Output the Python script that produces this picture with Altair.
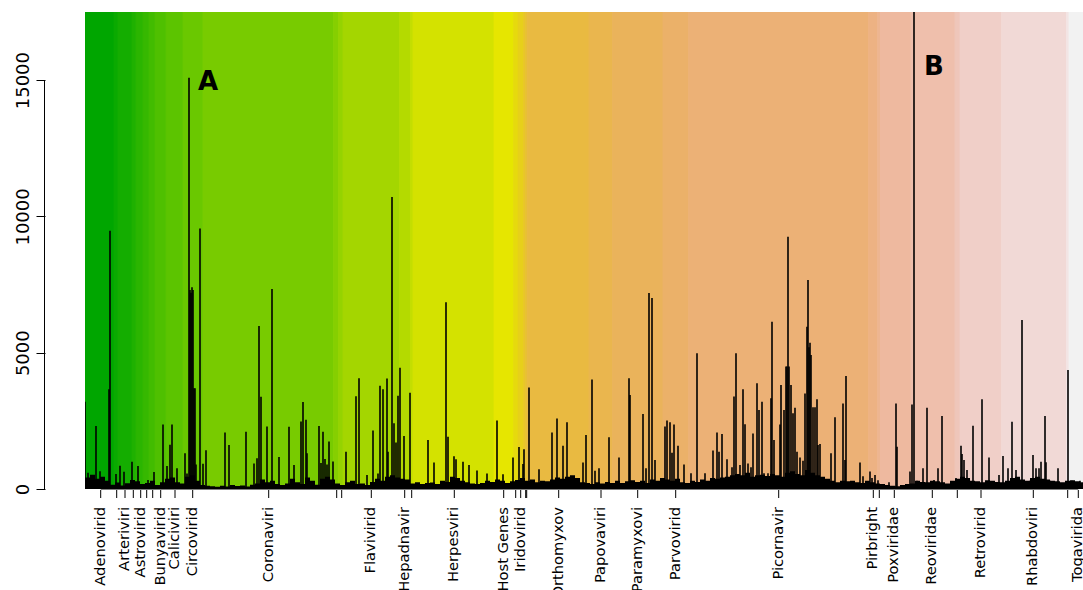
import colorsys

import altair as alt
import pandas as pd

# ---- families: band edges, tick (centre) positions and the labels that fit ----
family_edges = [0, 29, 33, 47, 51, 58, 64, 70, 81, 98, 118, 248.5, 253.5, 258,
                314.5, 325.5, 328, 409, 428.5, 433, 438.5, 440.5, 442.5, 504,
                527.5, 578, 603.5, 783.5, 792.5, 795.5, 826, 870, 875, 916.5,
                981.5, 984, 1010]
family_ticks = [15.7, 31.7, 40, 48.3, 55.7, 61.7, 67.7, 75.7, 90, 107.7, 183.7,
                251.7, 256.7, 286.3, 319.7, 326.7, 369.3, 418.7, 430.7, 435.7,
                440.7, 441.7, 473.7, 516, 552.7, 590.7, 693.7, 788.3, 794.3,
                809.3, 847.3, 872.3, 896, 948.3, 982.7, 993.3]
family_labels = ["Adenovirid", "", "Arteriviri", "", "Astrovirid", "", "",
                 "Bunyavirid", "Caliciviri", "Circovirid", "Coronaviri", "", "",
                 "Flavivirid", "Hepadnavir", "", "Herpesviri", "Host Genes", "",
                 "Iridovirid", "", "", "Orthomyxov", "Papovaviri", "Paramyxovi",
                 "Parvovirid", "Picornavir", "Pirbright", "", "Poxviridae",
                 "Reoviridae", "", "Retrovirid", "Rhabdoviri", "", "Togavirida"]

# ---- probe signal: isolated peaks ----
peak_pos = [0, 3, 7, 11, 15, 24, 25, 31, 35, 39, 47, 53, 63, 69, 78, 82, 85, 87,
            92, 100, 102, 104, 105, 106, 107, 108, 109, 110, 111, 115, 118, 121,
            140, 144, 161, 169, 172, 174, 176, 182, 187, 194, 204, 209, 216, 218,
            221, 222, 234, 236, 238, 240, 242, 244, 248, 261, 271, 274, 282, 288,
            293, 295, 298, 302, 303, 307, 309, 311, 313, 315, 319, 325, 343, 349,
            361, 363, 369, 371, 378, 384, 392, 402, 412, 418, 428, 434, 438, 439,
            444, 454, 467, 472, 478, 482, 498, 501, 507, 510, 514, 524, 534, 544,
            545, 558, 561, 564, 567, 570, 580, 582, 585, 587, 589, 593, 599, 606,
            612, 620, 628, 632, 634, 637, 642, 647, 649, 651, 655, 658, 660, 663,
            666, 668, 672, 674, 677, 679, 683, 686, 687, 689, 695, 696, 699, 701,
            702, 703, 704, 706, 708, 710, 712, 715, 718, 720, 722, 723, 724, 725,
            726, 728, 730, 732, 733, 735, 746, 750, 758, 760, 761, 775, 778, 785,
            787, 790, 793, 804, 811, 812, 825, 827, 829, 832, 838, 842, 849, 853,
            857, 871, 876, 877, 879, 882, 888, 897, 904, 914, 918, 923, 927, 931,
            937, 945, 948, 951, 954, 956, 960, 961, 965, 973, 983, 987, 995]
peak_val = [3200, 600, 480, 2310, 650, 3660, 9470, 550, 850, 630, 1000, 840, 330,
            620, 2370, 840, 1620, 2370, 760, 1310, 570, 15090, 7300, 7200, 7400,
            7300, 3700, 3700, 900, 9560, 930, 1420, 2070, 1610, 2100, 940, 1130,
            5980, 3380, 2290, 7340, 1170, 2280, 880, 2480, 3190, 2540, 1310, 2310,
            950, 2100, 1100, 900, 1740, 1010, 1370, 3400, 4060, 510, 2150, 570,
            3790, 3660, 4050, 1370, 10710, 2410, 1710, 3420, 4450, 1940, 3530,
            1800, 975, 6850, 1920, 1200, 1090, 1000, 880, 680, 570, 2510, 540,
            1160, 1540, 920, 1460, 3720, 725, 2070, 2590, 1585, 2450, 970, 1980,
            4020, 670, 760, 1900, 1160, 4060, 3450, 2750, 760, 7190, 7010, 1060,
            2290, 2510, 2450, 1330, 2370, 1590, 900, 580, 4980, 580, 1410, 2070,
            1370, 2020, 1090, 800, 3390, 4980, 880, 3660, 2380, 940, 800, 2040,
            3880, 2900, 3200, 580, 580, 3330, 6140, 1800, 2370, 3820, 2900, 4490,
            4490, 9250, 4490, 3820, 2780, 2980, 1370, 1160, 1040, 3500, 5950,
            7670, 5200, 5370, 4920, 3000, 3000, 3290, 1610, 1650, 1310, 2630, 3140,
            1060, 4150, 970, 470, 640, 400, 510, 320, 250, 3140, 1550, 640, 3100,
            17500, 300, 760, 2980, 330, 760, 2680, 400, 1590, 1280, 1060, 700,
            2320, 3290, 1160, 510, 1210, 760, 2470, 700, 6200, 300, 1250, 760, 760,
            1000, 2680, 980, 300, 760, 4370, 300, 300]

# ---- probe signal: background level, one value per 5 positions ----
floor_step = 5
floor_val = [
    420, 520, 380, 450, 300, 160, 240, 130, 210, 330,
    280, 180, 220, 300, 150, 250, 380, 420, 250, 200,
    450, 500, 300, 150, 120, 100, 80, 120, 90, 150,
    110, 130, 90, 160, 200, 350, 250, 300, 180, 150,
    200, 380, 250, 180, 420, 300, 160, 380, 450, 350,
    200, 150, 250, 300, 180, 200, 150, 260, 380, 300,
    450, 500, 420, 380, 350, 200, 250, 180, 220, 240,
    180, 300, 260, 450, 400, 300, 250, 200, 180, 220,
    300, 260, 350, 300, 220, 280, 330, 400, 300, 350,
    250, 300, 280, 350, 420, 380, 450, 500, 400, 250,
    220, 180, 250, 200, 260, 220, 300, 220, 280, 320,
    260, 300, 220, 350, 300, 400, 350, 300, 380, 250,
    220, 300, 260, 350, 300, 400, 380, 420, 450, 500,
    550, 500, 600, 450, 500, 520, 480, 550, 500, 450,
    600, 650, 550, 500, 700, 600, 500, 450, 380, 300,
    250, 300, 280, 300, 250, 220, 300, 250, 200, 180,
    150, 120, 100, 150, 180, 200, 300, 260, 250, 300,
    280, 250, 200, 300, 380, 450, 400, 300, 280, 250,
    320, 300, 260, 250, 300, 400, 450, 350, 300, 400,
    450, 380, 350, 300, 280, 250, 300, 320, 280, 250,
]

# ---- panel markers ----
note_text = ["A", "B"]
note_pos = [123, 849]
note_val = [14930, 15480]

y_ticks = [0, 5000, 10000, 15000]
X_MAX = 998
Y_MAX = 17500
W, H = 998, 477


def terrain_colors(n):
    """R-style terrain colour ramp (green -> yellow -> pale)."""
    k = n // 2
    out = []
    for i in range(k):
        t = i / (k - 1)
        h = 4 / 12 + (2 / 12 - 4 / 12) * t
        v = 0.65 + (0.9 - 0.65) * t
        out.append(colorsys.hsv_to_rgb(h, 1.0, v))
    m = n - k + 1
    for i in range(1, m):
        t = i / (m - 1)
        h = 2 / 12 * (1 - t)
        s = 1.0 - t
        v = 0.9 + (0.95 - 0.9) * t
        out.append(colorsys.hsv_to_rgb(h, s, v))
    return ["#%02x%02x%02x" % tuple(round(c * 255) for c in rgb) for rgb in out]


band_colors = terrain_colors(len(family_ticks))

bands = pd.DataFrame({
    "start": family_edges[:-1],
    "end": family_edges[1:],
    "color": band_colors,
})
ticks = pd.DataFrame({"pos": family_ticks, "label": family_labels})
labels = ticks[ticks["label"] != ""]
peaks = pd.DataFrame({"pos": peak_pos, "val": peak_val})
floor_pos = [i * floor_step for i in range(len(floor_val))] + [X_MAX]
floor = pd.DataFrame({"pos": floor_pos, "val": floor_val + [floor_val[-1]]})
notes = pd.DataFrame({"pos": note_pos, "val": note_val, "text": note_text})
yline = pd.DataFrame({"lo": [y_ticks[0]], "hi": [y_ticks[-1]]})
xline = pd.DataFrame({"lo": [family_ticks[0]], "hi": [family_ticks[-1]]})

xs = alt.Scale(domain=[0, X_MAX], nice=False, zero=False)
ys = alt.Scale(domain=[0, Y_MAX], nice=False)

# one shared left axis, detached 40px from the plot like base-R graphics
y_axis = alt.Axis(
    values=y_ticks, format="d", domain=False, grid=False, title=None, offset=40,
    tickSize=9, tickColor="black", tickWidth=1,
    labelAngle=270, labelAlign="center", labelBaseline="alphabetic",
    labelPadding=8, labelFontSize=18, labelColor="black",
    labelFont="DejaVu Sans",
)

band_layer = alt.Chart(bands).mark_rect(clip=True, strokeWidth=0.8).encode(
    x=alt.X("start:Q", scale=xs, axis=None),
    x2="end:Q",
    y=alt.value(0),
    y2=alt.value(H),
    color=alt.Color("color:N", scale=None, legend=None),
    stroke=alt.Stroke("color:N", scale=None, legend=None),
)

floor_layer = alt.Chart(floor).mark_area(
    interpolate="step-after", color="black", clip=True
).encode(
    x=alt.X("pos:Q", scale=xs, axis=None),
    y=alt.Y("val:Q", scale=ys, axis=y_axis),
)

peak_layer = alt.Chart(peaks).mark_rule(
    color="black", strokeWidth=1.6, clip=True
).encode(
    x=alt.X("pos:Q", scale=xs, axis=None),
    y=alt.Y("val:Q", scale=ys, axis=y_axis),
    y2=alt.datum(0),
)

yaxis_line = alt.Chart(yline).mark_rule(color="black", strokeWidth=1).encode(
    x=alt.value(-40.5),
    y=alt.Y("lo:Q", scale=ys, axis=y_axis),
    y2="hi:Q",
)

xaxis_line = alt.Chart(xline).mark_rule(color="black", strokeWidth=1).encode(
    x=alt.X("lo:Q", scale=xs, axis=None),
    x2="hi:Q",
    y=alt.value(H),
)

tick_layer = alt.Chart(ticks).mark_rule(color="black", strokeWidth=1).encode(
    x=alt.X("pos:Q", scale=xs, axis=None),
    y=alt.value(H + 1),
    y2=alt.value(H + 9),
)

label_layer = alt.Chart(labels).mark_text(
    angle=270, align="right", baseline="middle", fontSize=14.7,
    font="DejaVu Sans", color="black",
).encode(
    x=alt.X("pos:Q", scale=xs, axis=None),
    y=alt.value(H + 18),
    text="label:N",
)

note_layer = alt.Chart(notes).mark_text(
    fontSize=26, fontWeight="bold", font="DejaVu Sans", color="black",
    align="center", baseline="middle",
).encode(
    x=alt.X("pos:Q", scale=xs, axis=None),
    y=alt.Y("val:Q", scale=ys, axis=y_axis),
    text="text:N",
)

chart = alt.layer(
    band_layer, floor_layer, peak_layer, yaxis_line, xaxis_line,
    tick_layer, label_layer, note_layer,
).properties(
    width=W,
    height=H,
    autosize=alt.AutoSizeParams(type="none"),
    padding={"left": 85, "top": 12, "right": 0, "bottom": 101},
    background="white",
).configure_view(stroke=None)

chart.save("out.html", embed_options={"renderer": "svg", "actions": False})
